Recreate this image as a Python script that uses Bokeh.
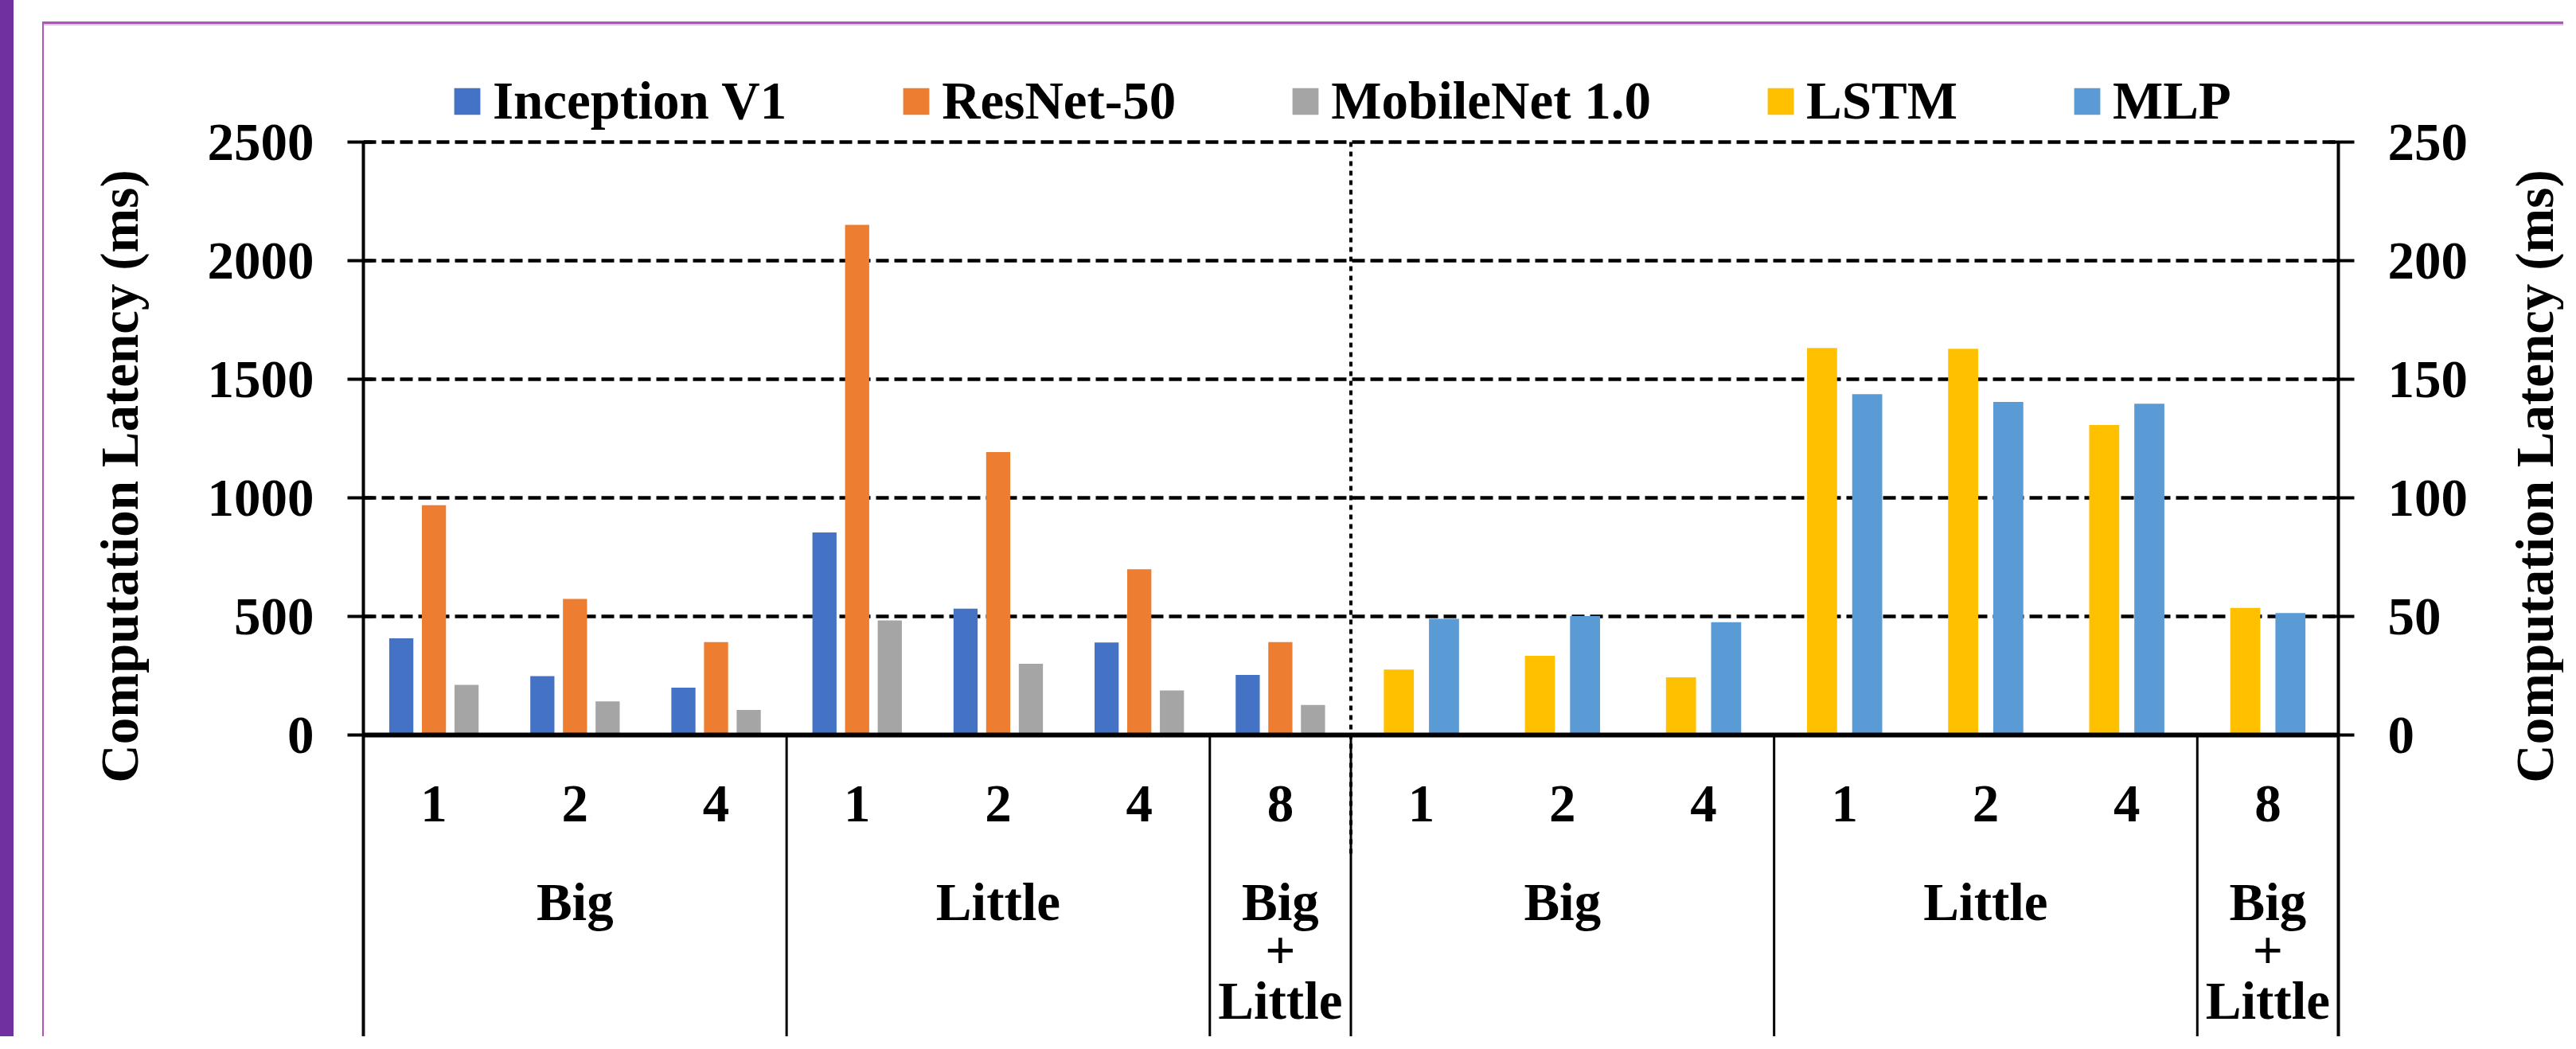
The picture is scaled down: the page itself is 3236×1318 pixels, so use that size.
import numpy as np
from bokeh.plotting import figure
from bokeh.models import (Range1d, LinearAxis, FixedTicker, Legend, LegendItem,
                          Span, Div, Label)
from bokeh.layouts import row, column
from bokeh.core.properties import value
from bokeh.embed import file_html
from bokeh.resources import INLINE

# ---------------- data ----------------
cores = ["1", "2", "4", "1", "2", "4", "8"]
clusters = ["Big", "Little", "Big+Little"]
cluster_spans = [(0, 3), (3, 6), (6, 7)]

inception_v1 = [408, 248, 200, 854, 533, 390, 253]
resnet_50 = [969, 574, 392, 2151, 1193, 699, 392]
mobilenet_10 = [211, 142, 106, 483, 300, 188, 127]
lstm = [27.6, 33.4, 24.3, 163.2, 162.8, 130.7, 53.6]
mlp = [49.0, 50.2, 47.6, 143.7, 140.4, 139.7, 51.4]

left_ticks = [0, 500, 1000, 1500, 2000, 2500]
right_ticks = [0, 50, 100, 150, 200, 250]
y_title = "Computation Latency (ms)"

# ---------------- geometry ----------------
PAGE_W, PAGE_H = 3220, 1302
OY = 32                      # height of the slide-frame strip above the chart
H = PAGE_H - OY              # chart height (figure px)
LT_W, RT_W = 137, 88         # widths of the two axis-title strips
W = PAGE_W - 55 - LT_W - RT_W   # main figure width
FL = 264                     # frame left inside main figure
FR = FL + 2481               # frame right
NCAT = 14
CAT_W = (FR - FL) / NCAT
TOP_Y = 146                  # figure px of value 2500
ZERO_Y = 891                 # figure px of value 0
PX_PER = (ZERO_Y - TOP_Y) / 2500.0

def yd(fy):
    return (ZERO_Y - fy) / PX_PER

y_end = yd(0)
y_start = yd(H)

FONT = "Liberation Serif"
FS = "67px"

p = figure(width=W, height=H, output_backend="svg", toolbar_location=None,
           x_range=Range1d(0, NCAT), y_range=Range1d(y_start, y_end),
           min_border_left=FL, min_border_right=W - FR, min_border_top=0,
           min_border_bottom=0, x_axis_location=None, y_axis_location="left")
p.extra_y_ranges = {"right": Range1d(y_start / 10.0, y_end / 10.0)}
p.outline_line_color = None
p.background_fill_color = "white"
p.border_fill_color = "white"
p.xgrid.visible = False

def style_axis(ax, ticks):
    ax.ticker = FixedTicker(ticks=ticks)
    ax.axis_line_width = 4
    ax.axis_line_color = "black"
    ax.major_tick_line_width = 4
    ax.major_tick_line_color = "black"
    ax.major_tick_in = 12
    ax.major_tick_out = 20
    ax.minor_tick_line_color = None
    ax.major_label_standoff = 42
    ax.major_label_text_font = FONT
    ax.major_label_text_font_style = "bold"
    ax.major_label_text_font_size = FS
    ax.major_label_text_color = "black"

laxis = p.yaxis[0]
style_axis(laxis, left_ticks)
laxis.bounds = (y_start, 2500)

raxis = LinearAxis(y_range_name="right")
style_axis(raxis, right_ticks)
raxis.bounds = (y_start / 10.0, 250)
p.add_layout(raxis, "right")

p.ygrid.ticker = FixedTicker(ticks=left_ticks[1:])
p.ygrid.grid_line_color = "black"
p.ygrid.grid_line_width = 4.5
p.ygrid.grid_line_dash = "16 7"

# ---------------- bars ----------------
centers = np.arange(7) + 0.5
bw3 = 0.171
off3 = 0.2314
r_inc = p.vbar(x=centers - off3, top=inception_v1, width=bw3, bottom=0,
               fill_color="#4472C4", line_color=None)
r_res = p.vbar(x=centers, top=resnet_50, width=bw3, bottom=0,
               fill_color="#ED7D31", line_color=None)
r_mob = p.vbar(x=centers + off3, top=mobilenet_10, width=bw3, bottom=0,
               fill_color="#A5A5A5", line_color=None)

centers_r = np.arange(7) + 7.5
bw2 = 0.213
off2 = 0.160
r_lstm = p.vbar(x=centers_r - off2, top=lstm, width=bw2, bottom=0,
                fill_color="#FFC000", line_color=None, y_range_name="right")
r_mlp = p.vbar(x=centers_r + off2, top=mlp, width=bw2, bottom=0,
               fill_color="#5B9BD5", line_color=None, y_range_name="right")

# zero axis line
p.add_layout(Span(location=0, dimension="width", line_color="black", line_width=6))

# category separators
seps = [3, 6, 7, 10, 13]
p.segment(x0=seps, y0=[0] * len(seps), x1=seps, y1=[y_start] * len(seps),
          line_color="black", line_width=3)
# dotted divider between CNN and RNN halves
p.segment(x0=[7], y0=[2500], x1=[7], y1=[yd(1040)], line_color="black",
          line_width=4, line_dash="6 6")

# ---------------- category labels ----------------
num_x = list(centers) + list(centers_r)
num_t = cores + cores
p.text(x=num_x, y=[yd(977)] * len(num_x), text=num_t,
       text_font=value(FONT), text_font_style="bold", text_font_size=FS,
       text_align="center", text_baseline="alphabetic", text_color="black")

grp_x, grp_t, grp_y = [], [], []
for half in (0, 7):
    for name, (a, b) in zip(clusters, cluster_spans):
        cx = half + (a + b) / 2.0
        if name == "Big+Little":
            for line, fy in (("Big", 1100), ("+", 1162), ("Little", 1224)):
                grp_x.append(cx); grp_t.append(line); grp_y.append(yd(fy))
        else:
            grp_x.append(cx); grp_t.append(name); grp_y.append(yd(1100))
p.text(x=grp_x, y=grp_y, text=grp_t,
       text_font=value(FONT), text_font_style="bold", text_font_size=FS,
       text_align="center", text_baseline="alphabetic", text_color="black")

# ---------------- legend (inside the frame, above the 2500 line) ----------------
LH = 74
legend = Legend(items=[LegendItem(label="Inception V1", renderers=[r_inc]),
                       LegendItem(label="ResNet-50", renderers=[r_res]),
                       LegendItem(label="MobileNet 1.0", renderers=[r_mob]),
                       LegendItem(label="LSTM", renderers=[r_lstm]),
                       LegendItem(label="MLP", renderers=[r_mlp])],
                orientation="horizontal",
                location=(110, int(H - (96 + LH / 2))),
                glyph_width=41, glyph_height=42, label_standoff=12, spacing=142,
                padding=0, margin=0, border_line_color=None,
                background_fill_alpha=0,
                label_text_font=FONT, label_text_font_style="bold",
                label_text_font_size=FS, label_text_color="black")
p.add_layout(legend, "center")

# ---------------- axis-title strips ----------------
def title_strip(width, x_center):
    t = figure(width=width, height=H, output_backend="svg", toolbar_location=None,
               x_range=Range1d(0, width), y_range=Range1d(H, 0),
               min_border=0, x_axis_location=None, y_axis_location=None)
    t.outline_line_color = None
    t.grid.visible = False
    t.background_fill_color = "white"
    t.border_fill_color = "white"
    t.add_layout(Label(x=x_center, y=566, text=y_title, angle=90,
                       angle_units="deg", text_align="center",
                       text_baseline="middle", text_font=FONT,
                       text_font_style="bold", text_font_size=FS,
                       text_color="black"))
    return t

left_title = title_strip(LT_W, 94)
right_title = title_strip(RT_W, 51)

# ---------------- decorative slide frame ----------------
def box(w, h, color):
    return Div(text="", width=w, height=h, margin=0,
               styles={"background-color": color})

inner_w = LT_W + W + RT_W
purple = box(17, PAGE_H, "#7030A0")
gap = box(36, PAGE_H, "white")
pink_v = column(box(2, OY - 5, "white"), box(2, PAGE_H - OY + 5, "#B450C0"),
                spacing=0, margin=0)
chart_row = row(left_title, p, right_title, spacing=0, margin=0)
right_col = column(box(inner_w, OY - 5, "white"), box(inner_w, 3, "#B450C0"),
                   box(inner_w, 2, "#E6BDEA"), chart_row, spacing=0, margin=0)
layout = row(purple, gap, pink_v, right_col, spacing=0, margin=0)

open("out.html", "w").write(file_html(layout, INLINE))
